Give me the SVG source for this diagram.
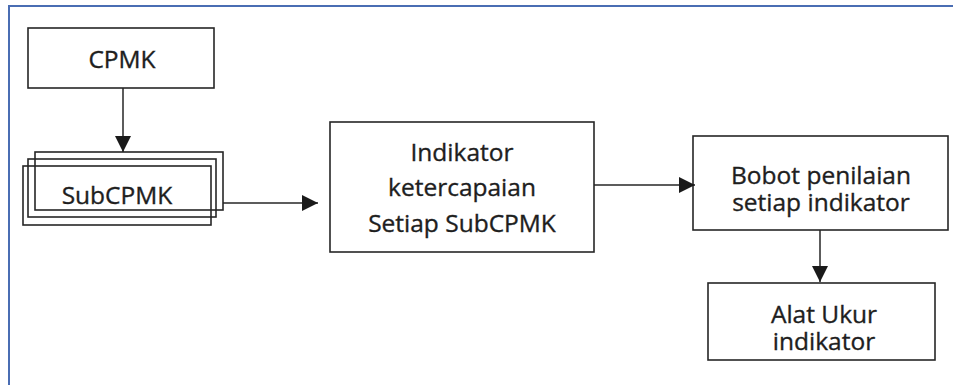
<svg xmlns="http://www.w3.org/2000/svg" width="953" height="385" viewBox="0 0 953 385">
<style>
.box{fill:none;stroke:#262626;stroke-width:1.6}
.frame{fill:none;stroke:#4a6db3;stroke-width:2}
.lbl{font-family:"Open Sans","Noto Sans",sans-serif;font-size:24.5px;fill:#1e1e1e;stroke:#1e1e1e;stroke-width:0.35;text-anchor:middle}
.con{stroke:#262626;stroke-width:1.5;fill:none}
</style>
<defs>
<marker id="ah" viewBox="0 0 10 10" refX="10" refY="5" markerWidth="16" markerHeight="16" markerUnits="userSpaceOnUse" orient="auto">
<path d="M0,0 L10,5 L0,10 Z" fill="#1a1a1a"/>
</marker>
</defs>
<rect width="953" height="385" fill="#ffffff"/>
<path class="frame" d="M9,385 L9,6 L953,6"/>
<g id="cpmk">
<rect class="box" x="28" y="28" width="186" height="60"/>
<text class="lbl" x="122" y="68">CPMK</text>
</g>
<g id="subcpmk">
<rect class="box" x="35" y="152" width="188" height="58"/>
<rect class="box" x="28" y="159" width="188" height="58"/>
<rect class="box" x="23" y="166" width="188" height="59"/>
<text class="lbl" x="117" y="204">SubCPMK</text>
</g>
<g id="indikator">
<rect class="box" x="330" y="122" width="264" height="130"/>
<text class="lbl" x="462" y="161">Indikator</text>
<text class="lbl" x="462" y="196">ketercapaian</text>
<text class="lbl" x="462" y="232">Setiap SubCPMK</text>
</g>
<g id="bobot">
<rect class="box" x="693" y="136" width="255" height="94"/>
<text class="lbl" x="821" y="184">Bobot penilaian</text>
<text class="lbl" x="821" y="211">setiap indikator</text>
</g>
<g id="alat">
<rect class="box" x="708" y="283" width="227" height="77"/>
<text class="lbl" x="824" y="323">Alat Ukur</text>
<text class="lbl" x="824" y="350">indikator</text>
</g>
<g id="connectors">
<line class="con" x1="123" y1="88" x2="123" y2="152" marker-end="url(#ah)"/>
<line class="con" x1="223" y1="203" x2="318" y2="203" marker-end="url(#ah)"/>
<line class="con" x1="594" y1="185" x2="695" y2="185" marker-end="url(#ah)"/>
<line class="con" x1="820" y1="230" x2="820" y2="282" marker-end="url(#ah)"/>
</g>
</svg>
